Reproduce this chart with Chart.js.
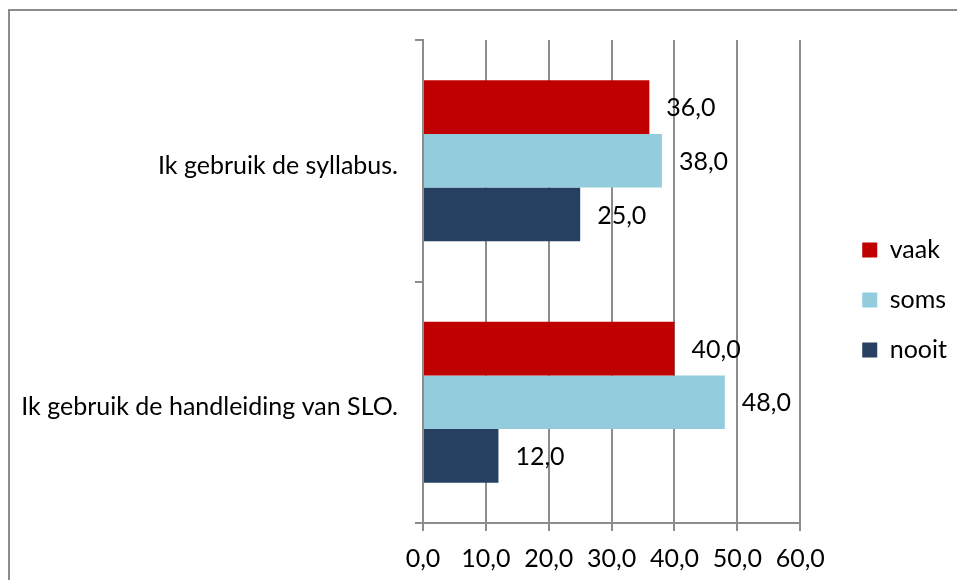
<!DOCTYPE html>
<html>
<head>
<meta charset="utf-8">
<script src="https://cdn.jsdelivr.net/npm/chart.js@4/dist/chart.umd.min.js"></script>
<style>
  body { margin: 0; background: #fff; }
  #wrap { position: relative; width: 957px; height: 580px; overflow: hidden; }
  #frame { position: absolute; left: 8px; top: 9px; width: 1000px; height: 700px; border: 2px solid #8c8c8c; box-sizing: border-box; }
  #chart { position: absolute; left: 0; top: 0; }
</style>
</head>
<body>
<div id="wrap">
  <div id="frame"></div>
  <canvas id="chart" width="957" height="580"></canvas>
</div>
<script>
var categories = ["Ik gebruik de syllabus.", "Ik gebruik de handleiding van SLO."];
var seriesNames = ["vaak", "soms", "nooit"];
var vaak = [36, 40];
var soms = [38, 48];
var nooit = [25, 12];
var colors = ["#c00000", "#93cddd", "#254061"];

var FONT = "Lato, 'Liberation Sans', sans-serif";
var gridColor = "#8c8c8c";

function fmt(v) {
    return v.toFixed(1).replace(".", ",");
}

// draws the value next to the end of every bar
var valueLabels = {
    id: "valueLabels",
    afterDatasetsDraw: function (chart) {
        var ctx = chart.ctx;
        ctx.save();
        ctx.font = "25px " + FONT;
        ctx.fillStyle = "#000";
        ctx.textAlign = "left";
        ctx.textBaseline = "middle";
        chart.data.datasets.forEach(function (ds, i) {
            var meta = chart.getDatasetMeta(i);
            meta.data.forEach(function (bar, j) {
                ctx.fillText(fmt(ds.data[j]), bar.x + 17, bar.y + 1);
            });
        });
        ctx.restore();
    }
};

var ctx = document.getElementById("chart").getContext("2d");
var chart = new Chart(ctx, {
    type: "bar",
    data: {
        labels: categories,
        datasets: [
            { label: seriesNames[0], data: vaak, backgroundColor: colors[0] },
            { label: seriesNames[1], data: soms, backgroundColor: colors[1] },
            { label: seriesNames[2], data: nooit, backgroundColor: colors[2] }
        ]
    },
    options: {
        indexAxis: "y",
        responsive: false,
        animation: false,
        categoryPercentage: 0.667,
        barPercentage: 1,
        layout: { padding: { left: 20, top: 20, right: 0, bottom: 0 } },
        plugins: {
            tooltip: { enabled: false },
            // empty spacer above the plot only, so the legend stays centred on the full height
            title: {
                display: true,
                text: " ",
                fullSize: false,
                font: { size: 10 },
                padding: { top: 0, bottom: 8 }
            },
            legend: {
                position: "right",
                labels: {
                    boxWidth: 15,
                    boxHeight: 15,
                    padding: 25,
                    color: "#000",
                    font: { family: FONT, size: 25 }
                }
            }
        },
        scales: {
            x: {
                min: 0,
                max: 60,
                ticks: {
                    stepSize: 10,
                    color: "#000",
                    padding: 13,
                    maxRotation: 0,
                    minRotation: 0,
                    font: { family: FONT, size: 25 },
                    callback: function (v) { return fmt(v); }
                },
                grid: { color: gridColor, lineWidth: 2, tickLength: 8 },
                border: { color: gridColor, width: 2 },
                afterFit: function (s) { s.height = 57; }
            },
            y: {
                ticks: {
                    color: "#000",
                    padding: 17,
                    labelOffset: 5,
                    font: { family: FONT, size: 25 }
                },
                grid: { drawOnChartArea: false, color: gridColor, lineWidth: 2, tickLength: 8 },
                border: { color: gridColor, width: 2 },
                afterFit: function (s) { s.width = 403; }
            },
            gap: {
                type: "linear",
                position: "right",
                display: true,
                ticks: { display: false },
                grid: { display: false },
                border: { display: false },
                afterFit: function (s) { s.width = 37; }
            }
        }
    },
    plugins: [valueLabels]
});
</script>
</body>
</html>
